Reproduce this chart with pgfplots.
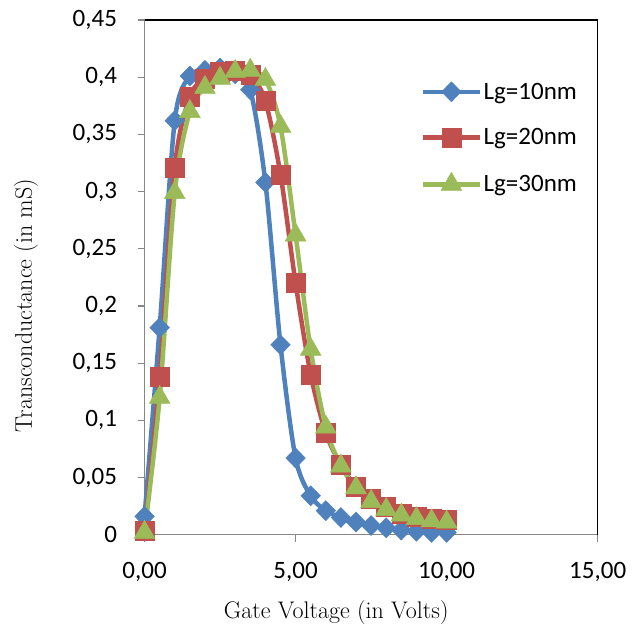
\documentclass[border=0pt]{standalone}
\usepackage{pgfplots}
\pgfplotsset{compat=1.18}
\usepackage{fontspec}
\newfontfamily\calibri{Carlito}
\definecolor{cblue}{HTML}{4F81BD}
\definecolor{cred}{HTML}{C0504D}
\definecolor{cgreen}{HTML}{9BBB59}
\definecolor{cgrey}{HTML}{868686}
\begin{document}
\begin{tikzpicture}
\begin{axis}[
  name=ax,
  scale only axis,
  width=453bp, height=514.5bp,
  xmin=0, xmax=15, ymin=0, ymax=0.45,
  xtick={0,5,10,15},
  ytick={0,0.05,0.1,0.15,0.2,0.25,0.3,0.35,0.4,0.45},
  axis lines=left,
  axis line style={-, cgrey, line width=1.2bp},
  tick style={cgrey, line width=1.2bp},
  tick align=outside,
  major tick length=7bp,
  minor tick num=0,
  clip=false,
  /pgf/number format/assume math mode=true,
  ticklabel style={font=\calibri\fontsize{25bp}{30bp}\selectfont, text=black},
  xticklabel style={yshift=-17bp, /pgf/number format/.cd, fixed, fixed zerofill, precision=2, use comma},
  yticklabel style={xshift=-17bp, /pgf/number format/.cd, fixed, precision=2, use comma},
  scaled ticks=false,
  xlabel={Gate Voltage (in Volts)},
  ylabel={Transconductance (in mS)},
  label style={font=\fontsize{24bp}{28bp}\selectfont},
  xlabel style={at={(axis description cs:0.423,-0.152)}, anchor=center},
  ylabel style={at={(axis description cs:-0.262,0.445)}, anchor=center, rotate=0},
  legend style={draw=none, fill=none, at={(axis description cs:0.61,0.882)}, anchor=north west,
    font=\calibri\fontsize{25bp}{30bp}\selectfont, row sep=24bp, inner sep=0pt,
    /tikz/every even column/.append style={column sep=2bp}},
  legend cell align=left,
  legend image code/.code={\draw[mark repeat=2,mark phase=2] plot coordinates {(0bp,0bp) (28bp,0bp) (56bp,0bp)};},
  every axis plot/.append style={line width=4.5bp, smooth, tension=0.5},
]
\addplot[cblue, mark=diamond*, mark options={solid, line width=0.5bp, fill=cblue, draw=cblue, mark size=10bp, xscale=1.3}] coordinates {
(0,0.016) (0.5,0.181) (1,0.362) (1.5,0.401) (2,0.406) (2.5,0.408) (3,0.403) (3.5,0.389)
(4,0.308) (4.5,0.166) (5,0.067) (5.5,0.034) (6,0.021) (6.5,0.015) (7,0.011) (7.5,0.008)
(8,0.006) (8.5,0.004) (9,0.003) (9.5,0.002) (10,0.002)};
\addlegendentry{Lg=10nm}
\addplot[cred, mark=square*, mark options={solid, line width=0.5bp, fill=cred, draw=cred, mark size=9.5bp}] coordinates {
(0,0.003) (0.5,0.138) (1,0.321) (1.5,0.383) (2,0.399) (2.5,0.405) (3,0.406) (3.5,0.402)
(4,0.379) (4.5,0.315) (5,0.220) (5.5,0.140) (6,0.089) (6.5,0.061) (7,0.042) (7.5,0.031)
(8,0.024) (8.5,0.018) (9,0.016) (9.5,0.014) (10,0.013)};
\addlegendentry{Lg=20nm}
\addplot[cgreen, mark=triangle*, mark options={solid, line width=0.5bp, fill=cgreen, draw=cgreen, mark size=12bp}] coordinates {
(0,0.002) (0.5,0.120) (1,0.299) (1.5,0.370) (2,0.391) (2.5,0.399) (3,0.405) (3.5,0.406)
(4,0.398) (4.5,0.357) (5,0.262) (5.5,0.162) (6,0.094) (6.5,0.060) (7,0.041) (7.5,0.029)
(8,0.022) (8.5,0.017) (9,0.014) (9.5,0.012) (10,0.011)};
\addlegendentry{Lg=30nm}
\draw[black, line width=1.2bp] (rel axis cs:0,1) -- (rel axis cs:1,1) -- (rel axis cs:1,0);
\end{axis}
\path[use as bounding box] ([xshift=-144.5bp,yshift=-91.5bp]ax.south west) rectangle ([xshift=39.3bp,yshift=20bp]ax.north east);
\end{tikzpicture}
\end{document}
